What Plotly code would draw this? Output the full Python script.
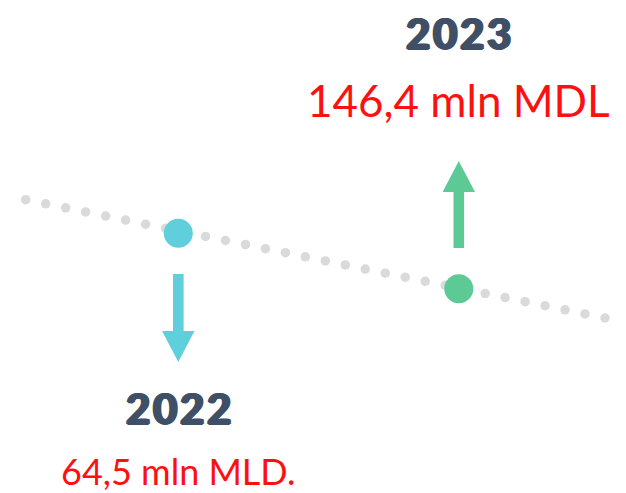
import numpy as np
import plotly.graph_objects as go

# ---- data ----
years = ["2022", "2023"]
values = ["64,5 mln MLD.", "146,4 mln MDL"]
point_x = [178.3, 458.8]
point_y = [233.3, 288.7]
point_colors = ["#5ECFDB", "#5DC994"]
arrow_start = [274, 248]     # shaft start (y)
arrow_tip = [362, 161]       # tip (y)
year_y = [408, 33]
value_y = [471, 100]
value_sizes = [36, 44]
label_x = [178, 458]

trend_start = (25.7, 199.7)
trend_end = (605.0, 318.0)
n_trend_dots = 30

fig = go.Figure()

# dotted trend line
tx = np.linspace(trend_start[0], trend_end[0], n_trend_dots)
ty = np.linspace(trend_start[1], trend_end[1], n_trend_dots)
fig.add_trace(go.Scatter(x=tx, y=ty, mode="markers",
                         marker=dict(size=9.5, color="#DADADA"),
                         hoverinfo="skip", showlegend=False))

# arrows
shaft_w = 5.3
head_w = 16.2
head_len = 31
for x, ys, yt, c in zip(point_x, arrow_start, arrow_tip, point_colors):
    d = 1 if yt > ys else -1
    yb = yt - d * head_len
    px = [x - shaft_w, x + shaft_w, x + shaft_w, x + head_w, x, x - head_w, x - shaft_w, x - shaft_w]
    py = [ys, ys, yb, yb, yt, yb, yb, ys]
    fig.add_trace(go.Scatter(x=px, y=py, mode="lines", fill="toself",
                             fillcolor=c, line=dict(width=0, color=c),
                             hoverinfo="skip", showlegend=False))

# main points
fig.add_trace(go.Scatter(x=point_x, y=point_y, mode="markers",
                         marker=dict(size=29, color=point_colors),
                         hoverinfo="skip", showlegend=False))

# labels
dark = "#3E4F66"
thick = "1.2px 0 0 %s, -1.2px 0 0 %s, 0 0.5px 0 %s" % (dark, dark, dark)
for yr, val, x, yy, vy, vs in zip(years, values, label_x, year_y, value_y, value_sizes):
    fig.add_annotation(x=x, y=yy, text="\u200a".join(yr), showarrow=False,
                       font=dict(family="Lato", size=42, color=dark, weight=900, shadow=thick),
                       xanchor="center", yanchor="middle")
    fig.add_annotation(x=x, y=vy, text=val, showarrow=False,
                       font=dict(family="Lato", size=vs, color="#FF1010"),
                       xanchor="center", yanchor="middle")

fig.update_layout(
    width=626, height=493, autosize=False,
    margin=dict(l=0, r=0, t=0, b=0),
    paper_bgcolor="white", plot_bgcolor="white",
    xaxis=dict(range=[0, 626], visible=False, fixedrange=True),
    yaxis=dict(range=[493, 0], visible=False, fixedrange=True),
    showlegend=False,
)

fig.write_html("out.html", config={"displayModeBar": False},
               post_script="document.body.style.margin='0';document.body.style.overflow='hidden';")
